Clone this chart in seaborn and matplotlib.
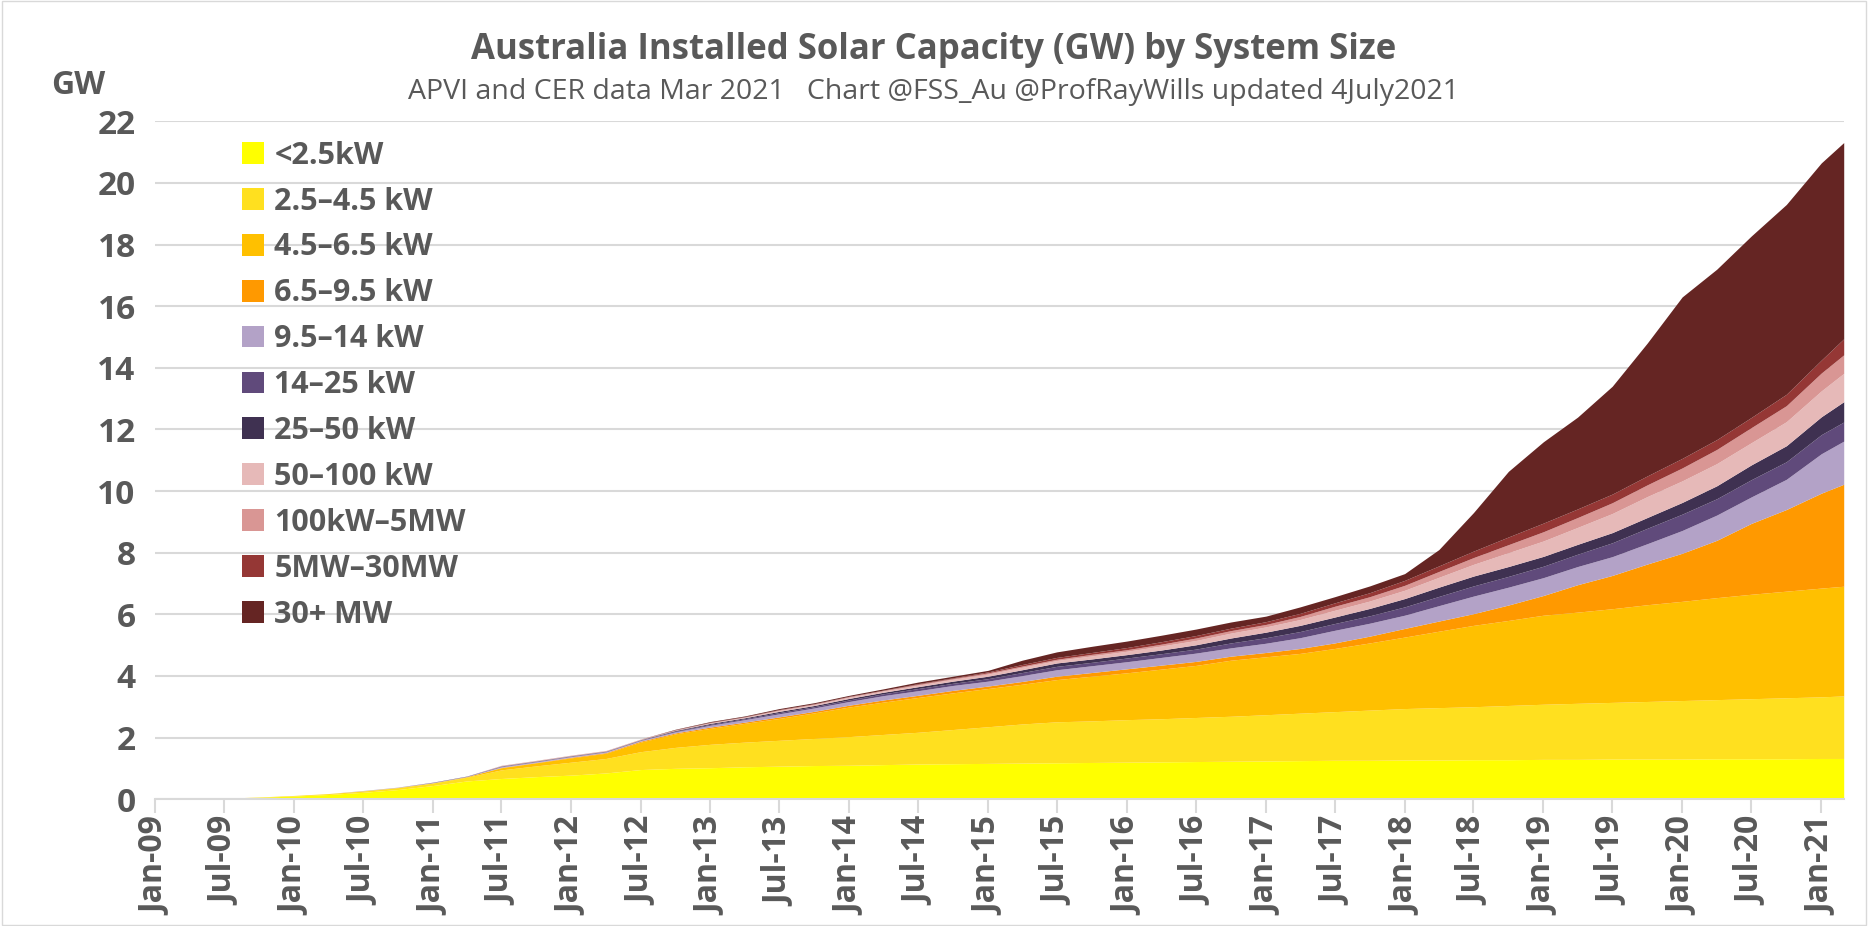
import pandas as pd
import seaborn as sns
import matplotlib
matplotlib.use('Agg')
from matplotlib import pyplot as plt
from matplotlib import dates as mdates
from matplotlib.patches import Patch, Rectangle

# quarterly readings, Jan-09 .. Jan-21, plus the last month Mar-21
dates = list(pd.date_range('2009-01-01', '2021-01-01', freq='QS')) + [pd.Timestamp('2021-03-01')]

labels = ['<2.5kW', '2.5–4.5 kW', '4.5–6.5 kW', '6.5–9.5 kW', '9.5–14 kW', '14–25 kW',
          '25–50 kW', '50–100 kW', '100kW–5MW', '5MW–30MW', '30+ MW']
colors = ['#FFFF00', '#FFE01F', '#FFC000', '#FF9900', '#B3A2C7', '#604A7B',
          '#3F3151', '#E6B9B8', '#D99694', '#953735', '#652523']

# GW per size band
kw_2_5 = [0.00, 0.01, 0.03, 0.06, 0.10, 0.15, 0.22, 0.31, 0.44, 0.59,
          0.67, 0.73, 0.78, 0.85, 0.96, 1.00, 1.02, 1.05, 1.07, 1.09,
          1.10, 1.12, 1.14, 1.15, 1.16, 1.17, 1.18, 1.19, 1.20, 1.21,
          1.22, 1.23, 1.24, 1.25, 1.26, 1.26, 1.27, 1.27, 1.28, 1.28,
          1.29, 1.29, 1.30, 1.30, 1.30, 1.31, 1.31, 1.31, 1.32, 1.32]
kw_4_5 = [0.00, 0.00, 0.00, 0.01, 0.02, 0.03, 0.04, 0.06, 0.08, 0.12,
          0.28, 0.35, 0.42, 0.47, 0.58, 0.68, 0.76, 0.80, 0.84, 0.88,
          0.93, 0.98, 1.03, 1.11, 1.19, 1.27, 1.33, 1.35, 1.38, 1.40,
          1.43, 1.46, 1.50, 1.54, 1.58, 1.63, 1.67, 1.70, 1.72, 1.76,
          1.79, 1.82, 1.84, 1.87, 1.90, 1.92, 1.95, 1.98, 2.00, 2.03]
kw_6_5 = [0.00, 0.00, 0.00, 0.00, 0.00, 0.00, 0.01, 0.01, 0.01, 0.02,
          0.07, 0.10, 0.14, 0.17, 0.31, 0.44, 0.52, 0.61, 0.71, 0.83,
          0.96, 1.05, 1.13, 1.19, 1.24, 1.29, 1.37, 1.45, 1.52, 1.61,
          1.69, 1.82, 1.88, 1.94, 2.05, 2.18, 2.32, 2.48, 2.64, 2.76,
          2.89, 2.96, 3.04, 3.14, 3.22, 3.31, 3.39, 3.46, 3.53, 3.56]
kw_9_5 = [0.00, 0.00, 0.00, 0.00, 0.00, 0.00, 0.00, 0.00, 0.00, 0.00,
          0.01, 0.01, 0.02, 0.02, 0.03, 0.03, 0.04, 0.04, 0.05, 0.05,
          0.06, 0.07, 0.07, 0.08, 0.08, 0.09, 0.11, 0.12, 0.13, 0.13,
          0.13, 0.13, 0.14, 0.16, 0.18, 0.22, 0.28, 0.33, 0.38, 0.50,
          0.64, 0.89, 1.08, 1.32, 1.56, 1.86, 2.30, 2.65, 3.08, 3.31]
kw_14 = [0.00, 0.00, 0.00, 0.00, 0.00, 0.00, 0.01, 0.01, 0.01, 0.01,
         0.03, 0.03, 0.03, 0.03, 0.03, 0.04, 0.06, 0.08, 0.10, 0.11,
         0.12, 0.14, 0.15, 0.16, 0.16, 0.19, 0.21, 0.22, 0.23, 0.25,
         0.27, 0.27, 0.30, 0.35, 0.41, 0.42, 0.43, 0.50, 0.57, 0.58,
         0.58, 0.59, 0.61, 0.66, 0.74, 0.82, 0.86, 0.98, 1.28, 1.40]
kw_25 = [0.00, 0.00, 0.00, 0.00, 0.00, 0.00, 0.00, 0.00, 0.01, 0.01,
         0.01, 0.01, 0.01, 0.01, 0.01, 0.02, 0.03, 0.03, 0.04, 0.04,
         0.05, 0.06, 0.07, 0.07, 0.08, 0.10, 0.11, 0.11, 0.12, 0.12,
         0.13, 0.16, 0.18, 0.20, 0.22, 0.24, 0.27, 0.30, 0.33, 0.35,
         0.37, 0.40, 0.45, 0.50, 0.53, 0.53, 0.56, 0.57, 0.62, 0.62]
kw_50 = [0.00, 0.00, 0.00, 0.00, 0.00, 0.00, 0.00, 0.00, 0.00, 0.00,
         0.01, 0.01, 0.01, 0.01, 0.01, 0.02, 0.03, 0.03, 0.04, 0.04,
         0.05, 0.05, 0.06, 0.07, 0.08, 0.09, 0.11, 0.11, 0.11, 0.12,
         0.14, 0.16, 0.18, 0.20, 0.21, 0.24, 0.27, 0.30, 0.32, 0.32,
         0.32, 0.32, 0.33, 0.35, 0.38, 0.42, 0.48, 0.52, 0.58, 0.66]
kw_100 = [0.00, 0.00, 0.00, 0.00, 0.00, 0.00, 0.00, 0.00, 0.00, 0.00,
          0.01, 0.01, 0.01, 0.01, 0.01, 0.01, 0.02, 0.02, 0.03, 0.03,
          0.04, 0.04, 0.05, 0.06, 0.07, 0.08, 0.08, 0.10, 0.11, 0.13,
          0.14, 0.16, 0.17, 0.19, 0.22, 0.24, 0.27, 0.32, 0.38, 0.45,
          0.50, 0.55, 0.62, 0.68, 0.70, 0.72, 0.72, 0.78, 0.84, 0.92]
mw_5 = [0.00, 0.00, 0.00, 0.00, 0.00, 0.00, 0.00, 0.00, 0.00, 0.00,
        0.01, 0.01, 0.01, 0.01, 0.01, 0.01, 0.01, 0.01, 0.02, 0.02,
        0.02, 0.02, 0.03, 0.03, 0.04, 0.04, 0.04, 0.05, 0.05, 0.06,
        0.08, 0.08, 0.08, 0.10, 0.13, 0.14, 0.16, 0.19, 0.22, 0.26,
        0.30, 0.32, 0.35, 0.38, 0.42, 0.46, 0.49, 0.52, 0.58, 0.60]
mw_30 = [0.00, 0.00, 0.00, 0.00, 0.00, 0.00, 0.00, 0.00, 0.00, 0.00,
         0.00, 0.00, 0.00, 0.00, 0.00, 0.01, 0.01, 0.01, 0.01, 0.01,
         0.01, 0.01, 0.02, 0.02, 0.03, 0.05, 0.06, 0.06, 0.07, 0.08,
         0.08, 0.08, 0.09, 0.10, 0.11, 0.13, 0.16, 0.18, 0.21, 0.25,
         0.28, 0.28, 0.28, 0.29, 0.31, 0.32, 0.33, 0.37, 0.42, 0.52]
mw_30_plus = [0.00, 0.00, 0.00, 0.00, 0.00, 0.00, 0.00, 0.00, 0.00, 0.00,
              0.00, 0.00, 0.00, 0.00, 0.00, 0.01, 0.02, 0.02, 0.03, 0.03,
              0.03, 0.04, 0.05, 0.05, 0.05, 0.14, 0.18, 0.20, 0.21, 0.21,
              0.21, 0.20, 0.18, 0.21, 0.20, 0.22, 0.22, 0.53, 1.25, 2.13,
              2.64, 2.98, 3.50, 4.31, 5.24, 5.53, 5.89, 6.16, 6.40, 6.37]

series = [kw_2_5, kw_4_5, kw_6_5, kw_9_5, kw_14, kw_25, kw_50, kw_100, mw_5, mw_30, mw_30_plus]
df = pd.DataFrame(dict(zip(labels, series)), index=pd.DatetimeIndex(dates))

sns.set_theme(style='white')
plt.rcParams['font.family'] = ['Open Sans', 'DejaVu Sans']
text_c = '#595959'

fig = plt.figure(figsize=(18.68, 9.26), dpi=100)
ax = fig.add_axes([0.083, 0.137, 0.904, 0.732])

ax.stackplot(df.index, [df[c].values for c in labels], colors=colors, linewidth=0)

ax.set_xlim(df.index[0], df.index[-1])
ax.set_ylim(0, 22)
ax.set_yticks(range(0, 23, 2))
ax.yaxis.grid(True, color='#D9D9D9', lw=1.5)
ax.set_axisbelow(True)
ax.xaxis.set_major_locator(mdates.MonthLocator(bymonth=[1, 7]))
ax.xaxis.set_major_formatter(mdates.DateFormatter('%b-%y'))
ax.tick_params(axis='x', rotation=90, labelsize=23, colors=text_c, length=10, width=1.5,
               direction='out', pad=3, bottom=True)
ax.tick_params(axis='x', color='#D9D9D9')
ax.tick_params(axis='y', labelsize=24, colors=text_c, length=0, pad=14)
for lab in ax.get_xticklabels() + ax.get_yticklabels():
    lab.set_fontweight('bold')

sns.despine(ax=ax, left=True, top=True, right=True)
ax.spines['bottom'].set_color('#D9D9D9')
ax.spines['bottom'].set_linewidth(1.5)

handles = [Patch(facecolor=c, edgecolor='none') for c in colors]
leg = ax.legend(handles, labels, loc='upper left', bbox_to_anchor=(0.035, 1.012), frameon=False,
                handlelength=0.72, handleheight=0.72, handletextpad=0.35, labelspacing=0.52,
                prop={'size': 22, 'weight': 'bold'})
for t in leg.get_texts():
    t.set_color(text_c)

fig.text(0.5, 0.946, 'Australia Installed Solar Capacity (GW) by System Size', ha='center', va='center',
         fontsize=25, fontweight='bold', color=text_c)
fig.text(0.5, 0.901, 'APVI and CER data Mar 2021   Chart @FSS_Au @ProfRayWills updated 4July2021',
         ha='center', va='center', fontsize=20.5, color=text_c)
fig.text(0.042, 0.908, 'GW', ha='center', va='center', fontsize=23, fontweight='bold', color=text_c)

fig.patches.append(Rectangle((0.001, 0.001), 0.998, 0.998, transform=fig.transFigure,
                             fill=False, edgecolor='#D9D9D9', lw=1))

fig.savefig('out.png', dpi=100)
plt.close(fig)
